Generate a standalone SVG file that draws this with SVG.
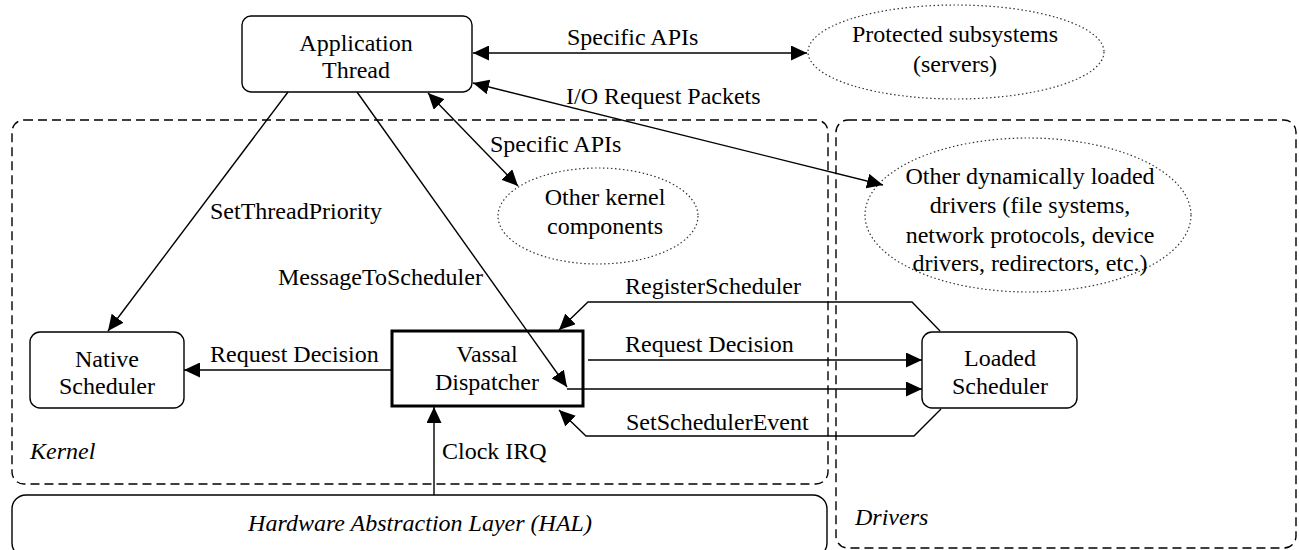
<svg xmlns="http://www.w3.org/2000/svg" width="1299" height="550" viewBox="0 0 1299 550">
<style>
text{font-family:"Liberation Serif","Times New Roman",serif;font-size:24px;fill:#000}
.c{text-anchor:middle}
.i{font-style:italic}
.box{fill:#fff;stroke:#000;stroke-width:1.4}
.thick{fill:#fff;stroke:#000;stroke-width:3}
.dash{fill:none;stroke:#000;stroke-width:1.4;stroke-dasharray:9 5}
.dot{fill:#fff;stroke:#333;stroke-width:1.2;stroke-dasharray:1.5 2.5}
.ln{fill:none;stroke:#000;stroke-width:1.4}
</style>
<defs>
<marker id="ah" markerUnits="userSpaceOnUse" markerWidth="17" markerHeight="15" refX="16" refY="7.5" orient="auto-start-reverse">
<path d="M0,0 L16,7.5 L0,15 z" fill="#000"/>
</marker>
</defs>
<rect width="1299" height="550" fill="#fff"/>
<g id="kernel">
<rect class="dash" x="12" y="120" width="816" height="364" rx="12"/>
<text class="i" x="30" y="459">Kernel</text>
</g>
<g id="drivers">
<rect class="dash" x="836" y="120" width="460" height="428" rx="12"/>
<text class="i" x="855" y="525">Drivers</text>
</g>
<g id="hal">
<rect class="box" x="12" y="495" width="815" height="62" rx="14"/>
<text class="i c" x="420" y="531">Hardware Abstraction Layer (HAL)</text>
</g>
<g id="app">
<rect class="box" x="242" y="16" width="230" height="76" rx="9"/>
<text class="c" x="356" y="51">Application</text>
<text class="c" x="356" y="78">Thread</text>
</g>
<g id="protected">
<ellipse class="dot" cx="956" cy="52" rx="148" ry="47"/>
<text class="c" x="955" y="42">Protected subsystems</text>
<text class="c" x="955" y="72">(servers)</text>
</g>
<g id="otherkernel">
<ellipse class="dot" cx="598" cy="216" rx="100" ry="48"/>
<text class="c" x="605" y="205">Other kernel</text>
<text class="c" x="605" y="234">components</text>
</g>
<g id="otherdrivers">
<ellipse class="dot" cx="1028" cy="215" rx="163" ry="77"/>
<text class="c" x="1030" y="184">Other dynamically loaded</text>
<text class="c" x="1030" y="213">drivers (file systems,</text>
<text class="c" x="1030" y="243">network protocols, device</text>
<text class="c" x="1030" y="271">drivers, redirectors, etc.)</text>
</g>
<g id="native">
<rect class="box" x="30" y="332" width="154" height="76" rx="10"/>
<text class="c" x="107" y="367">Native</text>
<text class="c" x="107" y="394">Scheduler</text>
</g>
<g id="vassal">
<rect class="thick" x="392" y="331" width="191" height="75"/>
<text class="c" x="487" y="362">Vassal</text>
<text class="c" x="487" y="390">Dispatcher</text>
</g>
<g id="loaded">
<rect class="box" x="922" y="332" width="155" height="76" rx="10"/>
<text class="c" x="1000" y="366">Loaded</text>
<text class="c" x="1000" y="394">Scheduler</text>
</g>
<g id="connectors">
<line class="ln" x1="473" y1="53" x2="807" y2="53" marker-start="url(#ah)" marker-end="url(#ah)"/>
<text x="567" y="45">Specific APIs</text>
<line class="ln" x1="473" y1="83" x2="883" y2="185" marker-start="url(#ah)" marker-end="url(#ah)"/>
<text x="566" y="104">I/O Request Packets</text>
<line class="ln" x1="428" y1="93" x2="518" y2="186" marker-start="url(#ah)" marker-end="url(#ah)"/>
<text x="490" y="152">Specific APIs</text>
<line class="ln" x1="288" y1="92" x2="108" y2="331" marker-end="url(#ah)"/>
<text x="210" y="219">SetThreadPriority</text>
<line class="ln" x1="357" y1="92" x2="567" y2="387" marker-end="url(#ah)"/>
<text x="278" y="285">MessageToScheduler</text>
<line class="ln" x1="392" y1="370" x2="184" y2="370" marker-end="url(#ah)"/>
<text x="210" y="362">Request Decision</text>
<line class="ln" x1="434" y1="495" x2="434" y2="407" marker-end="url(#ah)"/>
<text x="442" y="459">Clock IRQ</text>
<polyline class="ln" points="940,331 912,302 588,302 559,330" marker-end="url(#ah)"/>
<text x="625" y="294">RegisterScheduler</text>
<line class="ln" x1="588" y1="360" x2="922" y2="360" marker-end="url(#ah)"/>
<text x="625" y="352">Request Decision</text>
<line class="ln" x1="567" y1="389" x2="922" y2="389" marker-end="url(#ah)"/>
<polyline class="ln" points="941,409 914,436 586,436 559,410" marker-end="url(#ah)"/>
<text x="626" y="430">SetSchedulerEvent</text>
</g>
</svg>
